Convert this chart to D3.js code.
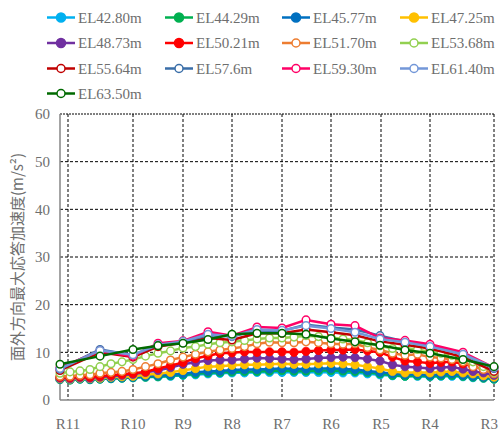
<!DOCTYPE html>
<html><head><meta charset="utf-8">
<script src="https://cdn.jsdelivr.net/npm/d3@7/dist/d3.min.js"></script>
<style>body{margin:0;background:#fff}svg{display:block}</style>
</head><body><svg id="c" width="499" height="432"></svg>
<script>
// ---- data ----
const seriesNames = ["EL42.80m","EL44.29m","EL45.77m","EL47.25m","EL48.73m","EL50.21m","EL51.70m","EL53.68m","EL55.64m","EL57.6m","EL59.30m","EL61.40m","EL63.50m"];
const seriesColors = ["#00B0F0","#00B050","#0070C0","#FFC000","#7030A0","#FF0000","#ED7D31","#92D050","#C00000","#3A6EA8","#FF0066","#7397D8","#006A00"];
const seriesOpen = [false,false,false,false,false,false,true,true,true,true,true,true,true];
// section labels and their chainage along the crest
const sectionLabels = ["R11","R10","R9","R8","R7","R6","R5","R4","R3"];
const sectionPos = [8,73,123,172,222,271,321,370,434];
// node chainages (fine mesh for lower elevations, coarse for upper)
const posFine = [0,10,20,30,40,51,62,73,85.5,98,110.5,123,135.5,148,160,172,184.5,197,209.5,222,234,246,258.5,271,283,295,307.5,320,332.5,345,357.5,370,381,392,403,413,423.5,434];
const posCoarse = [0,40,73,98,123,148,172,197,222,246,271,295,320,345,370,403,434];
const yTicks = [0,10,20,30,40,50,60];
// peak out-of-plane acceleration (m/s2)
const el4280 = [4.5,4.3,4.4,4.3,4.4,4.5,4.6,4.7,4.8,4.9,5.0,5.2,5.3,5.5,5.6,5.7,5.7,5.8,5.8,5.8,5.8,5.8,5.8,5.8,5.7,5.7,5.5,5.3,5.1,5.0,5.0,4.9,5.0,5.0,4.9,4.7,4.6,4.4];
const el4429 = [4.3,4.2,4.4,4.3,4.4,4.5,4.6,4.7,4.8,4.9,5.1,5.3,5.5,5.7,5.8,5.9,6.0,6.0,6.1,6.2,6.1,6.1,6.2,6.2,6.1,6.0,5.8,5.5,5.2,5.0,5.1,5.0,5.1,5.2,5.0,4.8,4.6,4.4];
const el4577 = [4.4,4.3,4.5,4.4,4.5,4.6,4.7,4.8,5.0,5.1,5.3,5.5,5.8,6.0,6.1,6.3,6.4,6.4,6.5,6.6,6.5,6.5,6.6,6.6,6.5,6.4,6.1,5.8,5.5,5.3,5.4,5.2,5.4,5.5,5.2,5.0,4.8,4.6];
const el4725 = [4.5,4.4,4.6,4.5,4.6,4.8,4.9,5.0,5.3,5.5,5.8,6.2,6.6,7.0,7.1,7.3,7.4,7.4,7.5,7.6,7.5,7.5,7.6,7.7,7.6,7.4,7.0,6.6,6.0,5.7,5.8,5.7,5.9,6.0,5.7,5.5,5.1,4.8];
const el4873 = [4.6,4.5,4.7,4.6,4.8,5.0,5.2,5.4,5.8,6.2,6.8,7.5,7.9,8.3,8.4,8.4,8.6,8.8,8.7,8.6,8.5,8.6,8.8,8.9,9.0,8.9,8.6,8.2,7.4,7.0,6.8,6.6,6.8,6.9,6.5,6.0,5.7,5.2];
const el5021 = [4.8,4.7,4.9,4.8,5.0,5.2,5.4,5.6,5.9,6.6,7.2,7.9,8.7,9.3,9.8,9.9,10.1,10.0,10.1,10.1,10.0,10.2,10.4,10.5,10.5,10.6,10.3,10.0,9.0,8.2,8.0,7.7,7.9,8.0,7.6,7.0,6.5,5.9];
const el5170 = [5.0,5.0,5.2,5.3,5.6,5.8,6.0,6.4,7.0,7.6,8.4,9.0,9.6,10.1,10.5,10.8,11.2,11.8,12.1,12.0,12.0,12.2,12.0,11.8,11.7,11.8,11.0,10.5,9.8,9.4,9.6,9.0,8.8,8.5,8.0,7.0,6.4,5.5];
const el5368 = [5.6,5.9,6.1,6.4,7.0,7.6,8.0,8.5,9.2,9.8,10.3,10.9,11.2,11.7,12.0,12.2,12.5,12.8,13.0,13.0,13.2,13.5,13.3,13.1,12.8,12.6,12.0,11.4,10.8,10.9,10.6,10.1,9.8,9.4,9.0,8.0,7.0,5.8];
const el5564 = [6.2,10.0,9.0,11.2,12.0,13.0,12.6,14.0,14.0,14.8,14.2,13.6,12.3,11.6,10.8,9.0,6.0];
const el5760 = [6.5,10.6,9.4,11.5,12.2,13.6,13.3,14.6,14.5,15.8,15.2,14.8,13.5,12.3,11.4,9.6,6.6];
const el5930 = [6.8,10.3,9.2,11.9,12.4,14.3,13.5,15.3,15.1,16.8,15.9,15.6,13.0,12.5,11.7,10.0,6.8];
const el6140 = [6.6,10.4,9.5,11.6,12.3,13.8,13.4,14.8,14.6,15.6,15.0,14.2,12.8,12.1,11.2,9.6,6.8];
const el6350 = [7.5,9.2,10.6,11.4,11.9,12.7,13.8,14.0,14.0,13.8,12.9,12.2,11.5,10.5,9.8,8.5,7.0];
const seriesValues = [el4280,el4429,el4577,el4725,el4873,el5021,el5170,el5368,el5564,el5760,el5930,el6140,el6350];
const yTitle = "面外方向最大応答加速度(m/s²)";

// ---- chart ----
const svg = d3.select("#c");
const m = {l:60, r:5, t:114, b:32};
const W = 499, H = 432;
const x = d3.scaleLinear().domain([0,434]).range([m.l, W - m.r]);
const y = d3.scaleLinear().domain([0,60]).range([H - m.b, m.t]);
const serif = "Liberation Serif, DejaVu Serif, serif";
const grey = "#6e6e6e";

// grid
const g = svg.append("g");
g.selectAll("line.h").data(yTicks.filter(d=>d>0)).join("line")
  .attr("x1", m.l).attr("x2", W - m.r)
  .attr("y1", d=>y(d)).attr("y2", d=>y(d))
  .attr("stroke", "#000").attr("stroke-width", 1)
  .attr("stroke-dasharray", d=> d===60 ? "2,1" : "3,2");
g.selectAll("line.v").data(sectionPos).join("line")
  .attr("x1", d=>x(d)).attr("x2", d=>x(d))
  .attr("y1", m.t).attr("y2", H - m.b)
  .attr("stroke", "#000").attr("stroke-width", 1)
  .attr("stroke-dasharray", "3,2");

// axes lines
svg.append("line").attr("x1", m.l).attr("x2", m.l).attr("y1", m.t).attr("y2", H - m.b)
  .attr("stroke", "#868686").attr("stroke-width", 1.5);
svg.append("line").attr("x1", m.l).attr("x2", W - m.r).attr("y1", H - m.b).attr("y2", H - m.b)
  .attr("stroke", "#868686").attr("stroke-width", 1.5);

// y tick labels
svg.selectAll("text.yt").data(yTicks).join("text")
  .attr("x", 50).attr("y", d=>y(d)).attr("dy", "0.35em")
  .attr("text-anchor", "end").attr("font-family", serif).attr("font-size", 15)
  .attr("fill", grey).text(d=>d);
// x labels
svg.selectAll("text.xt").data(sectionLabels).join("text")
  .attr("x", (d,i)=> i === sectionLabels.length - 1 ? W - 1 : x(sectionPos[i])).attr("y", 429)
  .attr("text-anchor", (d,i)=> i === sectionLabels.length - 1 ? "end" : "middle")
  .attr("font-family", serif).attr("font-size", 15)
  .attr("fill", grey).text(d=>d);
// y title
svg.append("text")
  .attr("transform", `translate(23,${(m.t + H - m.b)/2}) rotate(-90)`)
  .attr("text-anchor", "middle").attr("font-family", "Noto Sans CJK JP, Noto Sans CJK SC, sans-serif")
  .attr("font-size", 15).attr("fill", grey).text(yTitle);

// series
const line = d3.line().x(d=>x(d[0])).y(d=>y(d[1]));
seriesValues.forEach((vals, i) => {
  const xs = vals.length === posFine.length ? posFine : posCoarse;
  const pts = vals.map((v,j)=>[xs[j], v]);
  const sg = svg.append("g");
  sg.append("path").attr("d", line(pts)).attr("fill", "none")
    .attr("stroke", seriesColors[i]).attr("stroke-width", 2.5).attr("stroke-linejoin","round");
  sg.selectAll("circle").data(pts).join("circle")
    .attr("cx", d=>x(d[0])).attr("cy", d=>y(d[1]))
    .attr("r", seriesOpen[i] ? 3.8 : 4.2)
    .attr("fill", seriesOpen[i] ? "#fff" : seriesColors[i])
    .attr("stroke", seriesColors[i]).attr("stroke-width", seriesOpen[i] ? 1.5 : 0.8);
});

// legend
const colX = [47,165,282,400];
const rowY = [17.5,43,68.5,93.5];
seriesNames.forEach((name, i) => {
  const cx = colX[i % 4], cy = rowY[Math.floor(i / 4)];
  const lg = svg.append("g");
  lg.append("line").attr("x1", cx).attr("x2", cx + 28).attr("y1", cy).attr("y2", cy)
    .attr("stroke", seriesColors[i]).attr("stroke-width", 2.5);
  lg.append("circle").attr("cx", cx + 14).attr("cy", cy).attr("r", seriesOpen[i] ? 4 : 4.5)
    .attr("fill", seriesOpen[i] ? "#fff" : seriesColors[i])
    .attr("stroke", seriesColors[i]).attr("stroke-width", 1.5);
  lg.append("text").attr("x", cx + 31).attr("y", cy).attr("dy", "0.35em")
    .attr("font-family", serif).attr("font-size", 15).attr("fill", grey).text(name);
});
</script></body></html>
